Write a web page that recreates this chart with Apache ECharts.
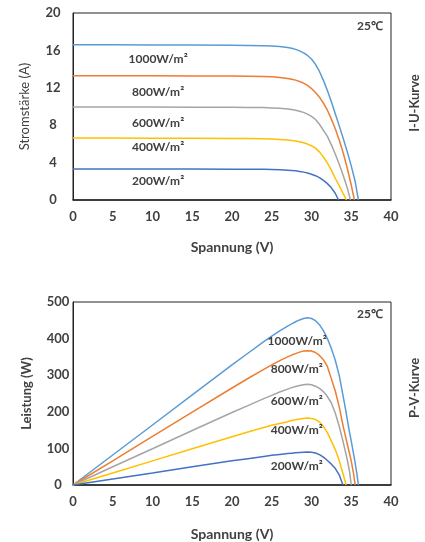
<!DOCTYPE html>
<html>
<head>
<meta charset="utf-8">
<script src="https://cdn.jsdelivr.net/npm/echarts@6/dist/echarts.min.js"></script>
<style>
html,body{margin:0;padding:0;background:#fff;}
#c{width:425px;height:542px;}
</style>
</head>
<body>
<div id="c"></div>
<script>
// ---------- data ----------
const irradianceLabels = ['1000W/m²', '800W/m²', '600W/m²', '400W/m²', '200W/m²'];
const seriesColors = ['#5B9BD5', '#ED7D31', '#A5A5A5', '#FFC000', '#4472C4'];

const xTicks = [0, 5, 10, 15, 20, 25, 30, 35, 40];
const iTicks = [0, 4, 8, 12, 16, 20];
const pTicks = [0, 100, 200, 300, 400, 500];

// I-U curves: [voltage (V), current (A)]
const iu1000 = [[0,16.6],[5,16.6],[10,16.59],[15,16.58],[20,16.55],[22,16.53],[24,16.5],[25,16.47],[26,16.41],[27,16.31],[27.5,16.23],[28,16.11],[28.5,15.95],[29,15.74],[29.5,15.46],[30,15.08],[30.5,14.5],[31,13.75],[31.5,12.8],[32,11.7],[32.5,10.5],[33,9.2],[33.5,7.9],[34,6.55],[34.5,5.15],[35,3.65],[35.5,1.95],[35.9,0]];
const iu800  = [[0,13.3],[5,13.3],[10,13.29],[15,13.27],[20,13.25],[22,13.23],[24,13.2],[25,13.17],[26,13.1],[27,13.0],[27.5,12.92],[28,12.82],[28.5,12.68],[29,12.5],[29.5,12.25],[30,11.92],[30.5,11.5],[31,11.0],[31.5,10.35],[32,9.6],[32.5,8.65],[33,7.6],[33.5,6.4],[34,5.0],[34.5,3.4],[35,1.6],[35.4,0]];
const iu600  = [[0,9.95],[5,9.95],[10,9.94],[15,9.93],[20,9.91],[22,9.9],[24,9.88],[25,9.85],[26,9.8],[27,9.73],[27.5,9.67],[28,9.6],[28.5,9.5],[29,9.37],[29.5,9.18],[30,8.95],[30.5,8.62],[31,8.1],[31.5,7.45],[32,6.8],[32.5,5.9],[33,4.9],[33.5,3.8],[34,2.6],[34.5,1.3],[34.9,0]];
const iu400  = [[0,6.62],[5,6.62],[10,6.61],[15,6.6],[20,6.59],[22,6.58],[24,6.56],[25,6.53],[26,6.48],[27,6.42],[27.5,6.37],[28,6.31],[28.5,6.23],[29,6.12],[29.5,5.98],[30,5.8],[30.5,5.55],[31,5.15],[31.5,4.6],[32,3.95],[32.5,3.2],[33,2.3],[33.5,1.5],[34,0.65],[34.4,0]];
const iu200  = [[0,3.32],[5,3.32],[10,3.31],[15,3.31],[20,3.3],[22,3.29],[24,3.28],[25,3.26],[26,3.23],[27,3.19],[27.5,3.16],[28,3.12],[28.5,3.06],[29,2.98],[29.5,2.88],[30,2.76],[30.5,2.6],[31,2.4],[31.5,2.1],[32,1.75],[32.5,1.3],[33,0.7],[33.4,0]];

// P-V curves: [voltage (V), power (W)]
const pv1000 = [[0,0],[5,82],[10,164],[15,246],[20,328],[22,360],[24,392],[25,407],[26,421],[27,434],[27.5,440],[28,446],[28.5,451],[29,455],[29.5,457],[30,455],[30.5,449],[31,438],[31.5,422],[32,400],[32.5,373],[33,340],[33.5,298],[33.9,252],[34.3,205],[34.66,159],[35,120],[35.4,72],[35.7,32],[35.9,0]];
const pv800  = [[0,0],[5,66],[10,133],[15,199],[20,265],[22,291],[24,316],[25,328],[26,340],[27,350],[27.5,355],[28,359],[28.5,363],[29,366],[29.5,367],[30,366],[30.5,362],[31,354],[31.5,342],[32,324],[32.5,290],[33,256],[33.5,212],[34,159],[34.5,112],[35,66],[35.3,30],[35.5,0]];
const pv600  = [[0,0],[5,50],[10,99],[15,149],[20,198],[22,217],[24,236],[25,245],[26,254],[27,262],[27.5,266],[28,269],[28.5,272],[29,274],[29.5,275],[30,274],[30.5,270],[31,264],[31.5,255],[31.9,245],[32.5,224],[33,196],[33.5,159],[34,116],[34.5,69],[34.8,35],[35.0,0]];
const pv400  = [[0,0],[5,33],[10,66],[15,99],[20,132],[22,145],[24,157],[25,163],[26,168],[27,173],[27.5,176],[28,178],[28.5,180.5],[29,182],[29.5,183],[30,182],[30.5,179],[31,172],[31.5,160],[32,143],[32.5,120],[33,96],[33.5,66],[34,28],[34.35,0]];
const pv200  = [[0,0],[5,16.5],[10,33],[15,50],[20,66],[22,72],[24,78],[25,81],[26,83.5],[27,86],[27.5,87],[28,88],[28.5,89],[29,89.5],[29.5,90],[30,89.5],[30.5,87.5],[31,83],[31.5,76],[32,67],[32.5,57],[33,45],[33.5,27],[33.95,0]];

// label anchor points in data units
const iuLabelAt = [[10.7,15.1],[10.7,11.57],[10.7,8.25],[10.7,5.62],[10.7,2.04]];
const pvLabelAt = [[28.2,394],[28.15,316],[28.15,230],[28.15,150],[28.15,51]];

// ---------- chart ----------
const FONT = "Lato, 'Open Sans', sans-serif";
const TXT = '#404040';
const chart = echarts.init(document.getElementById('c'), null, {renderer: 'canvas'});

function xAxisDef(gi, name, gap) {
  return {
    gridIndex: gi, type: 'value', min: xTicks[0], max: xTicks[xTicks.length-1], interval: xTicks[1]-xTicks[0],
    name: name, nameLocation: 'middle', nameGap: gap,
    nameTextStyle: {fontFamily: FONT, fontWeight: 'bold', fontSize: 14, color: TXT},
    axisLine: {show: true, lineStyle: {color: '#222', width: 1.5}},
    axisTick: {show: false},
    splitLine: {show: false},
    axisLabel: {fontFamily: FONT, fontWeight: 'bold', fontSize: 13, color: TXT, margin: 10}
  };
}
function yAxisDef(gi, ticks, name, gap, margin, weight) {
  return {
    gridIndex: gi, type: 'value', min: ticks[0], max: ticks[ticks.length-1], interval: ticks[1]-ticks[0],
    name: name, nameLocation: 'middle', nameGap: gap, nameRotate: 90,
    nameTextStyle: {fontFamily: FONT, fontWeight: weight, fontSize: 13, color: TXT},
    axisLine: {show: true, lineStyle: {color: '#222', width: 1}},
    axisTick: {show: false},
    splitLine: {show: false},
    axisLabel: {fontFamily: FONT, fontWeight: 'bold', fontSize: 13, color: TXT, margin: margin, align: 'center'}
  };
}

const ivSets = [iu1000, iu800, iu600, iu400, iu200];
const pvSets = [pv1000, pv800, pv600, pv400, pv200];
const series = [];
function addSeries(sets, axisIdx, labelAt) {
  sets.forEach((d, i) => {
    series.push({
      type: 'line', xAxisIndex: axisIdx, yAxisIndex: axisIdx, data: d, showSymbol: false,
      smooth: false,
      lineStyle: {color: seriesColors[i], width: 1.5}, itemStyle: {color: seriesColors[i]},
      markPoint: {symbol: 'rect', symbolSize: 0, silent: true,
        label: {show: true, position: 'inside', formatter: irradianceLabels[i], fontFamily: FONT, fontWeight: 'bold', fontSize: 12, color: TXT},
        data: [{coord: labelAt[i]}]}
    });
  });
}
addSeries(ivSets, 0, iuLabelAt);
addSeries(pvSets, 1, pvLabelAt);

chart.setOption({
  animation: false,
  backgroundColor: '#fff',
  grid: [
    {left: 73, top: 13, width: 318, height: 187, show: true, borderColor: '#222', borderWidth: 1, containLabel: false},
    {left: 73, top: 302, width: 318, height: 185, show: true, borderColor: '#222', borderWidth: 1, containLabel: false}
  ],
  xAxis: [xAxisDef(0, 'Spannung (V)', 40), xAxisDef(1, 'Spannung (V)', 42)],
  yAxis: [yAxisDef(0, iTicks, 'Stromstärke (A)', 42, 20, 'normal'), yAxisDef(1, pTicks, 'Leistung (W)', 40, 15, 'bold')],
  graphic: [
    {type: 'text', x: 383, y: 26, style: {text: '25℃', align: 'right', verticalAlign: 'middle', fontFamily: FONT, fontWeight: 'bold', fontSize: 12, fill: TXT}},
    {type: 'text', x: 383, y: 314, style: {text: '25℃', align: 'right', verticalAlign: 'middle', fontFamily: FONT, fontWeight: 'bold', fontSize: 12, fill: TXT}},
    {type: 'text', x: 415, y: 103, rotation: Math.PI/2, style: {text: 'I-U-Kurve', align: 'center', verticalAlign: 'middle', fontFamily: FONT, fontWeight: 'bold', fontSize: 13, fill: TXT}},
    {type: 'text', x: 415, y: 388, rotation: Math.PI/2, style: {text: 'P-V-Kurve', align: 'center', verticalAlign: 'middle', fontFamily: FONT, fontWeight: 'bold', fontSize: 13, fill: TXT}}
  ],
  series: series
});
</script>
</body>
</html>
